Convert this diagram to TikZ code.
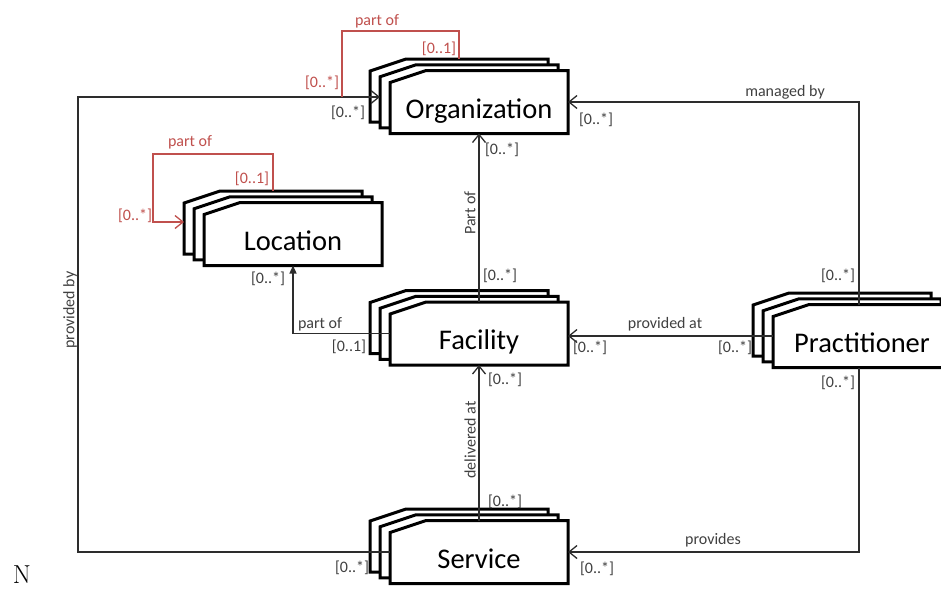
\documentclass[tikz,border=0pt]{standalone}
\usepackage{fontspec}
\newfontfamily\calibri{Carlito}
\usetikzlibrary{arrows.meta}
\definecolor{loopred}{RGB}{192,80,77}
\definecolor{linegray}{RGB}{45,45,45}
\definecolor{lblgray}{RGB}{64,64,64}
\begin{document}
\begin{tikzpicture}[x=1pt,y=-1pt,
  boxline/.style={draw=black, line width=3pt, fill=white, line join=miter},
  boxtext/.style={minimum width=178pt, minimum height=63pt, inner sep=0pt, outer sep=0pt,
    text height=32pt, text depth=0pt, font=\calibri\fontsize{28.5}{30}\selectfont},
  conn/.style={draw=linegray, line width=1.3pt},
  opentip/.style={-{Straight Barb[length=8pt,width=13pt]}},
  filltip/.style={-{Triangle[length=8pt,width=7pt]}},
  selfloop/.style={draw=loopred, line width=1.3pt},
  lbl/.style={font=\calibri\fontsize{16}{18}\selectfont, text=lblgray, inner sep=0pt},
  redlbl/.style={lbl, text=loopred},
  % three stacked boxes with a cut top-left corner; the front one carries the name
  pics/stackbox/.style={code={
    \foreach \k in {2,1,0}{
      \filldraw[boxline] ({-89-10*\k},{31.5-5.75*\k}) -- ({-89-10*\k},{-19.5-5.75*\k})
        -- ({-53-10*\k},{-31.5-5.75*\k}) -- ({89-10*\k},{-31.5-5.75*\k})
        -- ({89-10*\k},{31.5-5.75*\k}) -- cycle;
    }
    \node[boxtext] (-box) at (0,0) {#1};
  }}
]
\useasboundingbox[fill=white] (0,0) rectangle (941,590);

% classes
\pic (org)  at (479,102) {stackbox=Organization};
\pic (loc)  at (293,234) {stackbox=Location};
\pic (fac)  at (479,333.5) {stackbox=Facility};
\pic (prac) at (862,336) {stackbox=Practitioner};
\pic (svc)  at (479,552) {stackbox=Service};

% helper points
\coordinate (orgin) at ([xshift=-10pt,yshift=5pt]org-box.west);
\coordinate (pbx) at (78,0);
\coordinate (orgloop) at (342,31);
\coordinate (locloop) at (153,154);
\coordinate (locin) at ([shift={(-20pt,12pt)}]loc-box.west);

% associations
\draw[conn,opentip] ([xshift=-3pt]prac-box.north) |- (org-box.east);
\draw[conn,opentip] (prac-box.west) -- (prac-box.west -| fac-box.east);
\draw[conn,opentip] ([xshift=-3pt]prac-box.south) |- (svc-box.east);
\draw[conn,opentip] (svc-box.west) -- (svc-box.west -| pbx) -- (orgin -| pbx) -- (orgin);
\draw[conn,opentip] (fac-box.north) -- (org-box.south);
\draw[conn,opentip] (svc-box.north) -- (fac-box.south);
\draw[conn,filltip] (fac-box.west) -| (loc-box.south);

% self associations
\draw[selfloop] ([shift={(-20pt,11.5pt)}]org-box.north) |- (orgloop) -- (orgloop |- orgin);
\draw[selfloop,opentip] ([shift={(-20pt,11.5pt)}]loc-box.north) |- (locloop) |- (locin);

% role names and multiplicities
\node[redlbl] (orgpart) at (377,21) {part of};
\node[redlbl] (orgm1) at (439,49) {[0..1]};
\node[redlbl] (orgm2) at (322,83) {[0..*]};
\node[lbl] (orgm3) at (348,113) {[0..*]};
\node[lbl] (orgm4) at (596,120) {[0..*]};
\node[lbl] (orgm5) at (502,150) {[0..*]};
\node[lbl] (mgd) at (785,92) {managed by};
\node[lbl] (pracm1) at (838,276) {[0..*]};
\node[lbl] (pracm2) at (838,383) {[0..*]};
\node[lbl] (pat) at (665,324) {provided at};
\node[lbl] (facm1) at (590,348) {[0..*]};
\node[lbl] (pracm3) at (735,348) {[0..*]};
\node[redlbl] (locpart) at (190,142) {part of};
\node[redlbl] (locm1) at (252,179) {[0..1]};
\node[redlbl] (locm2) at (135,216) {[0..*]};
\node[lbl] (locm3) at (268,279) {[0..*]};
\node[lbl] (facpart) at (320,324) {part of};
\node[lbl] (facm2) at (349,347) {[0..1]};
\node[lbl] (facm3) at (500,276) {[0..*]};
\node[lbl] (facm4) at (505,380) {[0..*]};
\node[lbl] (svcm1) at (505,502) {[0..*]};
\node[lbl] (svcm2) at (352,568) {[0..*]};
\node[lbl] (svcm3) at (597,569) {[0..*]};
\node[lbl] (prov) at (713,540) {provides};
\node[lbl,rotate=90] (partof) at (470,213) {Part of};
\node[lbl,rotate=90] (delat) at (470,440) {delivered at};
\node[lbl,rotate=90] (provby) at (70,310) {provided by};
\node[font=\fontsize{26}{28}\selectfont, inner sep=0pt] (mark) at (22,575) {N};
\end{tikzpicture}
\end{document}
